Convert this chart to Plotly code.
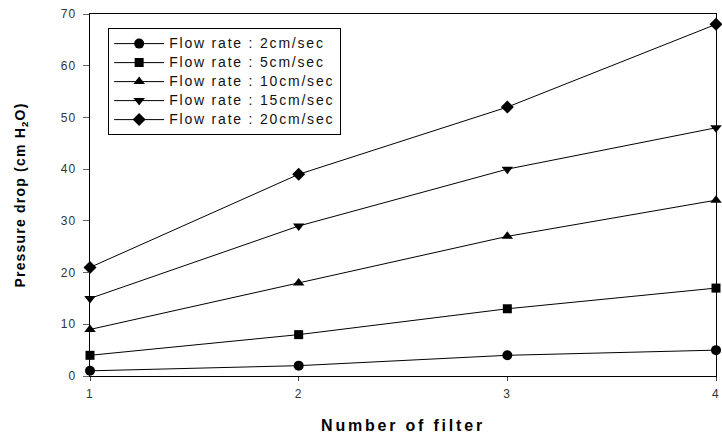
import plotly.graph_objects as go

filters = [1, 2, 3, 4]
names = ["Flow rate : 2cm/sec", "Flow rate : 5cm/sec", "Flow rate : 10cm/sec",
         "Flow rate : 15cm/sec", "Flow rate : 20cm/sec"]
v2 = [1, 2, 4, 5]
v5 = [4, 8, 13, 17]
v10 = [9, 18, 27, 34]
v15 = [15, 29, 40, 48]
v20 = [21, 39, 52, 68]
series = [v2, v5, v10, v15, v20]
symbols = ["circle", "square", "triangle-up", "triangle-down", "diamond"]
sizes = [10, 9, 10, 10, 10]

fig = go.Figure()
for name, vals, sym, sz in zip(names, series, symbols, sizes):
    fig.add_trace(go.Scatter(
        x=filters, y=vals, name=name, mode="lines+markers",
        line=dict(color="black", width=1),
        marker=dict(symbol=sym, size=sz, color="black"),
        cliponaxis=False,
    ))

font_family = "Liberation Sans, Arial, sans-serif"
fig.update_layout(
    width=722, height=442,
    margin=dict(l=90, r=6, t=14, b=66, autoexpand=False),
    paper_bgcolor="white", plot_bgcolor="white",
    font=dict(family=font_family, color="#222", size=12),
    showlegend=True,
    legend=dict(
        x=0.029, y=0.961, xanchor="left", yanchor="top",
        bordercolor="black", borderwidth=1, bgcolor="white",
        font=dict(size=11, color="#121212"),
        itemwidth=50, tracegroupgap=0,
    ),
    xaxis=dict(
        range=[1, 4], tickvals=filters, ticktext=["1", "2", "3", "4"],
        showgrid=False, zeroline=False, automargin=False,
        showline=True, linecolor="black", linewidth=1, mirror=True,
        ticks="outside", ticklen=4, tickcolor="#444", ticklabelstandoff=3,
        tickfont=dict(size=12, color="#333"),
        title=dict(text="<b>Number of filter</b>", font=dict(size=16, color="black"), standoff=19),
    ),
    yaxis=dict(
        range=[0, 70], tickvals=[0, 10, 20, 30, 40, 50, 60, 70],
        showgrid=False, zeroline=False, automargin=False,
        showline=True, linecolor="black", linewidth=1, mirror=True,
        ticks="outside", ticklen=6, tickcolor="#666", ticklabelstandoff=4,
        tickfont=dict(size=12, color="#333"),
        title=dict(text="<b>Pressure drop (cm H<sub>2</sub>O)</b>", font=dict(size=14, color="black"), standoff=34),
    ),
)

post = """
var s = document.createElement('style');
s.textContent = 'body{margin:0;} .legendtext{font-size:14px !important; letter-spacing:1.8px;} .xtitle{letter-spacing:2.8px;} .ytitle{letter-spacing:1.2px;} .xtick text,.ytick text{letter-spacing:1.3px;}';
document.head.appendChild(s);
var gd = document.getElementById('{plot_id}');
Plotly.relayout(gd, {'legend.font.color': '#111111'});
"""

fig.write_html("out.html", post_script=post, config={"displayModeBar": False})
